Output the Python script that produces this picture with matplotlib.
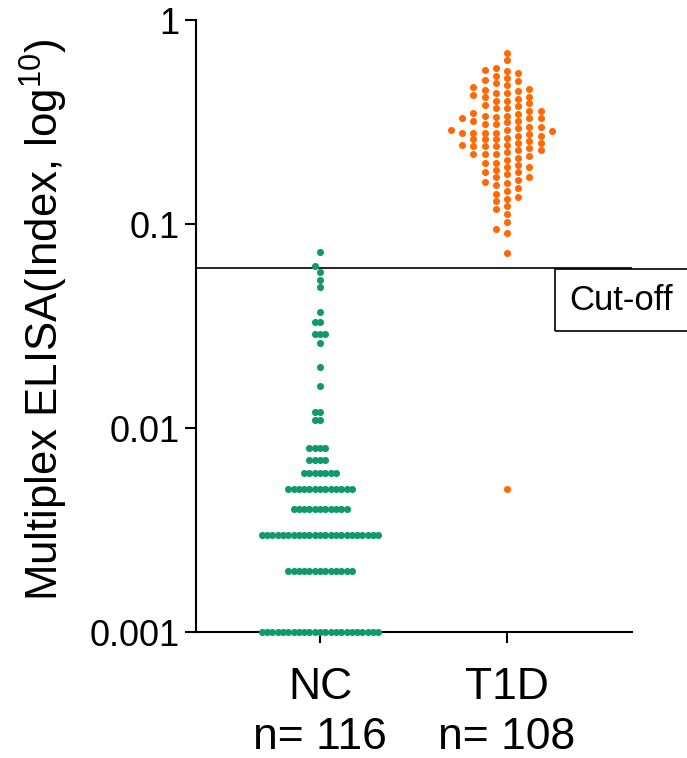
import numpy as np
import matplotlib
matplotlib.use('Agg')
import matplotlib.pyplot as plt
from matplotlib.patches import Rectangle

plt.rcParams['font.family'] = ['Liberation Sans', 'DejaVu Sans']
plt.rcParams['mathtext.fontset'] = 'custom'
plt.rcParams['mathtext.rm'] = 'Liberation Sans'

# --- data ---
groups = ['NC', 'T1D']
group_n = [116, 108]
cutoff = 0.061

# NC: repeated values at discrete levels, plus single higher points
nc_levels = [0.001, 0.002, 0.003, 0.004, 0.005, 0.006, 0.007, 0.008,
             0.011, 0.012, 0.016, 0.020, 0.026, 0.029, 0.033, 0.037,
             0.049, 0.053, 0.058, 0.062, 0.073]
nc_counts = [23, 13, 23, 11, 13, 7, 4, 4,
             2, 2, 1, 1, 1, 3, 2, 1,
             1, 1, 1, 1, 1]

t1d_values = [0.69, 0.64,
              0.58, 0.57, 0.56, 0.55,
              0.53, 0.52, 0.51, 0.50, 0.49, 0.48,
              0.47, 0.46, 0.455, 0.45, 0.44, 0.44, 0.43, 0.42, 0.42,
              0.41, 0.40, 0.40, 0.39, 0.385, 0.38, 0.37, 0.37, 0.36, 0.36,
              0.35, 0.345, 0.34, 0.34, 0.335, 0.33, 0.33, 0.33, 0.32, 0.32,
              0.315, 0.31, 0.31,
              0.30, 0.30, 0.295, 0.29, 0.29, 0.285, 0.28, 0.28, 0.28, 0.28,
              0.275, 0.27, 0.27, 0.265, 0.26, 0.26, 0.26,
              0.255, 0.25, 0.25, 0.245, 0.245, 0.24, 0.24, 0.24, 0.235, 0.23,
              0.23, 0.225, 0.22, 0.22, 0.22,
              0.215, 0.21, 0.205, 0.20, 0.20, 0.195, 0.19, 0.19, 0.185, 0.18,
              0.18, 0.175, 0.17, 0.17, 0.165, 0.16, 0.158, 0.155,
              0.15, 0.145, 0.14, 0.135, 0.132,
              0.13, 0.122, 0.118, 0.112,
              0.102, 0.094, 0.090,
              0.072,
              0.005]

colors = ['#0f9b69', '#ff6a06']


def column_swarm(ax, xpos, yvals, col_px, row_px):
    # place points on a column grid (0, -1, +1, -2, ...) so that
    # points in the same column are at least row_px apart vertically
    pts = np.column_stack([np.full(len(yvals), xpos), yvals])
    ypix = ax.transData.transform(pts)[:, 1]
    px_per_unit = ax.transData.transform((1, 0))[0] - ax.transData.transform((0, 0))[0]
    cols = {}
    offsets = np.zeros(len(yvals))
    for i in np.argsort(ypix, kind='stable'):
        k = 0
        while True:
            c = (k + 1) // 2 * (-1 if k % 2 else 1)
            if all(abs(ypix[i] - y) >= row_px for y in cols.get(c, [])):
                break
            k += 1
        cols.setdefault(c, []).append(ypix[i])
        offsets[i] = c * col_px / px_per_unit
    return xpos + offsets


fig = plt.figure(figsize=(6.87, 7.58), dpi=100)
ax = fig.add_axes([0.2853, 0.1662, 0.6346, 0.8074])
ax.set_yscale('log')
ax.set_ylim(0.001, 1)
ax.set_xlim(-0.663, 1.668)

nc_values = np.repeat(nc_levels, nc_counts)
data = [nc_values, np.array(t1d_values)]
col_spacing = [5.3, 11.2]

for i, vals in enumerate(data):
    xs = column_swarm(ax, i, vals, col_spacing[i], 6.5)
    ax.scatter(xs, vals, s=26, color=colors[i], linewidths=0, zorder=3,
               clip_on=False)

ax.axhline(cutoff, color='black', lw=1.2, zorder=2)

ax.set_yticks([0.001, 0.01, 0.1, 1])
ax.set_yticklabels(['0.001', '0.01', '0.1', '1'])
ax.yaxis.set_minor_locator(matplotlib.ticker.NullLocator())
ax.set_xticks([0, 1])
ax.set_xticklabels([f'{g}\nn= {n}' for g, n in zip(groups, group_n)],
                   linespacing=1.3)

ax.tick_params(axis='y', labelsize=26, length=8, width=1.5, pad=4)
ax.tick_params(axis='x', labelsize=32, length=8, width=1.5, pad=17)
for s in ['top', 'right']:
    ax.spines[s].set_visible(False)
for s in ['left', 'bottom']:
    ax.spines[s].set_linewidth(1.5)

ax.set_ylabel(r'Multiplex ELISA(Index, log$^{\mathregular{10}}$)', fontsize=31.5)
ax.yaxis.set_label_coords(-0.29, 0.51)

fig.add_artist(Rectangle((555 / 687, (758 - 331) / 758), 0.3, 62 / 758,
                         transform=fig.transFigure, fill=False, lw=1.2,
                         edgecolor='black'))
fig.text(569 / 687, (758 - 300) / 758, 'Cut-off', fontsize=25, va='center')

fig.savefig('out.png', dpi=100)
